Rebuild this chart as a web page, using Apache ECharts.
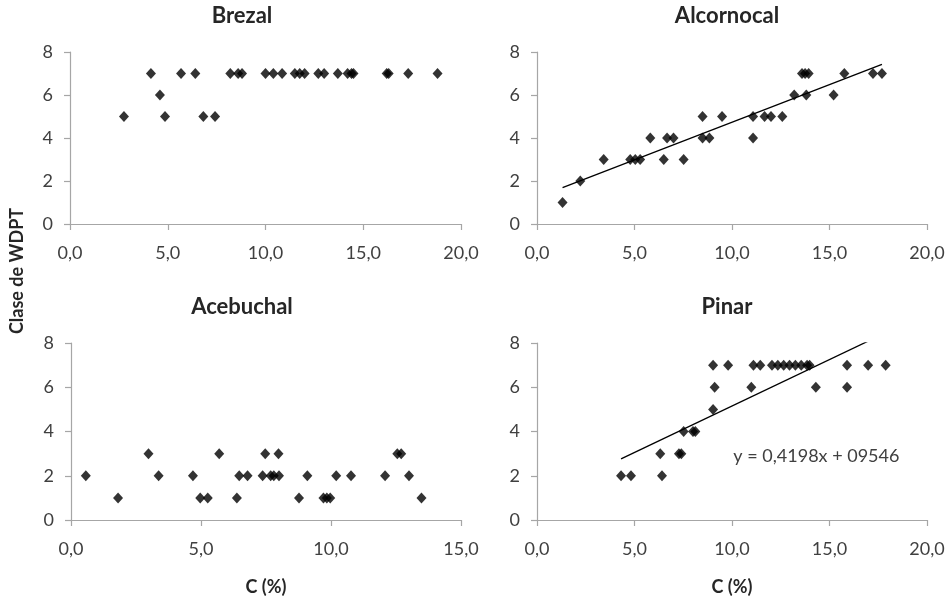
<!DOCTYPE html>
<html>
<head>
<meta charset="utf-8">
<script src="https://cdn.jsdelivr.net/npm/echarts@6/dist/echarts.min.js"></script>
<style>
  html, body { margin: 0; padding: 0; background: #fff; }
  #chart { width: 950px; height: 600px; }
</style>
</head>
<body>
<div id="chart"></div>
<script>
// Brezal
const brezalX = [2.76, 4.14, 4.60, 4.86, 5.68, 6.41, 6.82, 7.42, 8.2, 8.6, 8.8, 10.0, 10.4, 10.85, 11.5, 11.75, 12.0, 12.7, 13.0, 13.7, 14.2, 14.4, 14.5, 16.2, 16.3, 17.3, 18.8]
const brezalY = [5, 7, 6, 5, 7, 7, 5, 5, 7, 7, 7, 7, 7, 7, 7, 7, 7, 7, 7, 7, 7, 7, 7, 7, 7, 7, 7]

// Alcornocal
const alcornocalX = [1.31, 2.22, 3.42, 4.78, 5.04, 5.29, 6.5, 7.52, 5.81, 6.67, 7.0, 8.49, 8.84, 11.08, 8.49, 9.49, 11.08, 11.67, 12.0, 12.58, 13.19, 13.81, 15.21, 13.59, 13.75, 13.93, 15.76, 17.23, 17.69]
const alcornocalY = [1, 2, 3, 3, 3, 3, 3, 3, 4, 4, 4, 4, 4, 4, 5, 5, 5, 5, 5, 5, 6, 6, 6, 7, 7, 7, 7, 7, 7]

// Acebuchal
const acebuchalX = [0.57, 1.81, 2.98, 3.37, 4.69, 4.97, 5.26, 5.70, 6.38, 6.47, 6.79, 7.37, 7.47, 7.68, 7.8, 7.98, 8.0, 8.77, 9.09, 9.71, 9.84, 9.97, 10.2, 10.77, 12.08, 12.55, 12.7, 13.0, 13.48]
const acebuchalY = [2, 1, 3, 2, 2, 1, 1, 3, 1, 2, 2, 2, 3, 2, 2, 3, 2, 1, 2, 1, 1, 1, 2, 2, 2, 3, 3, 2, 1]

// Pinar
const pinarX = [4.31, 4.82, 6.41, 6.32, 7.28, 7.40, 7.52, 8.0, 8.12, 9.03, 9.11, 10.99, 14.3, 15.9, 9.03, 9.8, 11.1, 11.45, 12.05, 12.35, 12.65, 12.95, 13.25, 13.55, 13.85, 13.98, 15.9, 16.98, 17.88]
const pinarY = [2, 2, 2, 3, 3, 3, 4, 4, 4, 5, 6, 6, 6, 6, 7, 7, 7, 7, 7, 7, 7, 7, 7, 7, 7, 7, 7, 7, 7]

// Pinar trend line, as printed on the chart
const pinarSlope = 0.4198
const pinarIntercept = 0.9546
const pinarLabel = 'y = 0,4198x + 09546'
const pinarLabelAt = [10.07, 2.9]

const titles = ['Brezal', 'Alcornocal', 'Acebuchal', 'Pinar']
const xMax = [20, 20, 15, 20]
const yTicks = [0, 2, 4, 6, 8]

const font = 'Lato, "Open Sans", sans-serif'
const axisGray = '#a6a6a6'
const textGray = '#404040'

const zip = (xs, ys) => xs.map((x, i) => [x, ys[i]])

// least squares fit, drawn from min x to max x like Excel does
function trend(xs, ys) {
  const n = xs.length
  const mx = xs.reduce((a, b) => a + b, 0) / n
  const my = ys.reduce((a, b) => a + b, 0) / n
  let sxy = 0, sxx = 0
  xs.forEach((x, i) => { sxy += (x - mx) * (ys[i] - my); sxx += (x - mx) * (x - mx) })
  const k = sxy / sxx
  const b = my - k * mx
  const lo = Math.min(...xs), hi = Math.max(...xs)
  return [[lo, k * lo + b], [hi, k * hi + b]]
}

function line(xs, k, b) {
  const lo = Math.min(...xs), hi = Math.max(...xs)
  return [[lo, k * lo + b], [hi, k * hi + b]]
}

const grids = [
  { left: 70, top: 52, width: 391, height: 172 },
  { left: 537, top: 52, width: 390, height: 172 },
  { left: 71, top: 343, width: 390, height: 177 },
  { left: 537, top: 343, width: 390, height: 177 }
]
const titlePos = [[242, 5], [727, 5], [242, 296], [727, 296]]

const chart = echarts.init(document.getElementById('chart'), null, { renderer: 'canvas' })

const option = {
  backgroundColor: '#fff',
  animation: false,
  textStyle: { fontFamily: font },
  title: titles.map((t, i) => ({
    text: t,
    left: titlePos[i][0],
    top: titlePos[i][1],
    padding: 0,
    textAlign: 'center',
    textStyle: { fontFamily: font, fontSize: 22, fontWeight: 'bold', color: '#262626' }
  })),
  grid: grids,
  xAxis: xMax.map((m, i) => ({
    type: 'value',
    gridIndex: i,
    min: 0,
    max: m,
    interval: 5,
    name: i >= 2 ? 'C (%)' : '',
    nameLocation: 'middle',
    nameGap: 58,
    nameTextStyle: { fontFamily: font, fontSize: 18, fontWeight: 'bold', color: '#262626' },
    axisLine: { show: true, lineStyle: { color: axisGray, width: 1.2 } },
    axisTick: { show: true, length: 6, lineStyle: { color: axisGray, width: 1.2 } },
    splitLine: { show: false },
    axisLabel: {
      margin: 20,
      fontSize: 18,
      color: textGray,
      formatter: v => v.toFixed(1).replace('.', ',')
    }
  })),
  yAxis: grids.map((g, i) => ({
    type: 'value',
    gridIndex: i,
    min: yTicks[0],
    max: yTicks[yTicks.length - 1],
    interval: 2,
    axisLine: { show: true, lineStyle: { color: axisGray, width: 1.2 } },
    axisTick: { show: true, length: 6, lineStyle: { color: axisGray, width: 1.2 } },
    splitLine: { show: false },
    axisLabel: { margin: 17, fontSize: 18, color: textGray }
  })),
  graphic: [{
    type: 'text',
    x: 17,
    y: 271,
    rotation: Math.PI / 2,
    style: {
      text: 'Clase de WDPT',
      fontFamily: font,
      fontSize: 18,
      fontWeight: 'bold',
      fill: '#262626',
      align: 'center',
      verticalAlign: 'middle'
    }
  }],
  series: [
    { data: zip(brezalX, brezalY) },
    { data: zip(alcornocalX, alcornocalY) },
    { data: zip(acebuchalX, acebuchalY) },
    { data: zip(pinarX, pinarY) }
  ].map((s, i) => ({
    type: 'scatter',
    xAxisIndex: i,
    yAxisIndex: i,
    symbol: 'diamond',
    symbolSize: [10, 11],
    itemStyle: { color: '#000' },
    data: s.data
  })).concat([
    {
      type: 'line',
      xAxisIndex: 1,
      yAxisIndex: 1,
      data: trend(alcornocalX, alcornocalY),
      symbol: 'none',
      lineStyle: { color: '#000', width: 1.3 },
      clip: true
    },
    {
      type: 'line',
      xAxisIndex: 3,
      yAxisIndex: 3,
      data: line(pinarX, pinarSlope, pinarIntercept),
      symbol: 'none',
      lineStyle: { color: '#000', width: 1.3 },
      clip: true,
      markPoint: {
        symbol: 'circle',
        symbolSize: 0,
        silent: true,
        label: {
          show: true,
          position: 'right',
          distance: 0,
          formatter: pinarLabel,
          fontFamily: font,
          fontSize: 18,
          color: textGray
        },
        data: [{ coord: pinarLabelAt }]
      }
    }
  ])
}

chart.setOption(option)
</script>
</body>
</html>
